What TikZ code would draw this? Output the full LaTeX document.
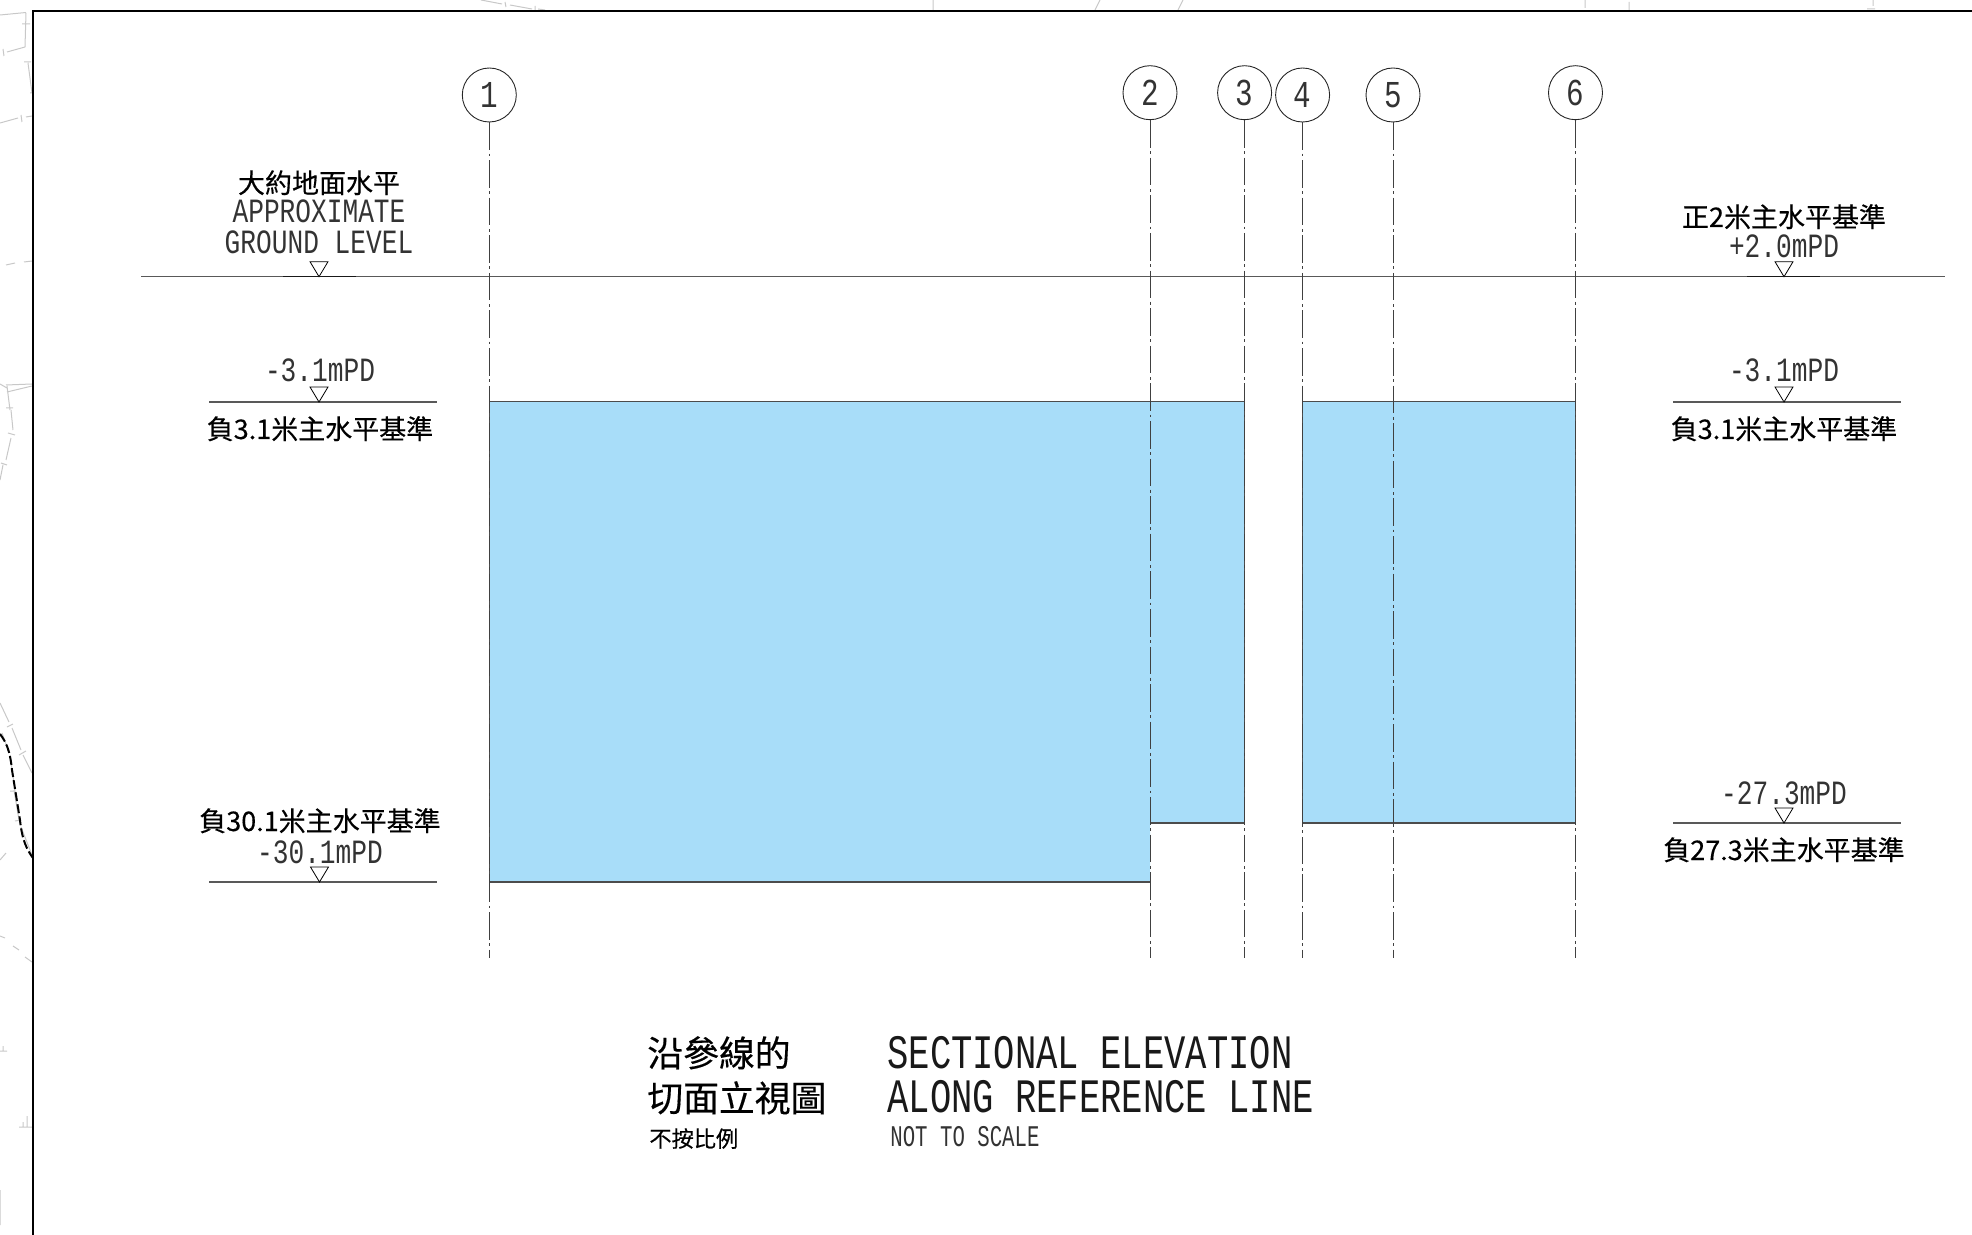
\documentclass[tikz,border=0pt]{standalone}
\usepackage{fontspec}
\setmainfont{Liberation Sans}
\newfontfamily\cjk[FakeBold=0.35]{Noto Sans CJK TC}
\newfontfamily\cada[FakeStretch=0.77]{Liberation Mono}
\newfontfamily\cadb[FakeStretch=0.74]{Liberation Mono}
\newfontfamily\cadc[FakeStretch=0.69]{Liberation Mono}
\definecolor{waterblue}{HTML}{A8DDF9}
\definecolor{mapgrey}{HTML}{C8C8C8}
\tikzset{
  zh/.style={inner sep=0pt,anchor=base,font=\cjk\fontsize{13.5}{13.5}\selectfont},
  zhbig/.style={inner sep=0pt,anchor=base west,font=\cjk\fontsize{17.9}{17.9}\selectfont},
  zhsmall/.style={inner sep=0pt,anchor=base west,font=\cjk\fontsize{11.1}{11.1}\selectfont},
  en/.style={inner sep=0pt,anchor=base,text=black!80,font=\cada\fontsize{17}{17}\selectfont},
  entitle/.style={inner sep=0pt,anchor=base west,text=black!90,font=\cadb\fontsize{24}{24}\selectfont},
  ensmall/.style={inner sep=0pt,anchor=base west,text=black!80,font=\cadc\fontsize{15}{15}\selectfont},
  gridcircle/.style={draw=black!85,line width=0.45pt,circle,minimum size=27pt,inner sep=0pt,text=black!80,font=\cada\fontsize{19}{19}\selectfont},
  centreline/.style={draw=black!75,line width=0.45pt,dash pattern=on 13.8pt off 1.8pt on 1.4pt off 1.8pt},
  levelline/.style={draw=black!65,line width=0.7pt},
  levelshort/.style={draw=black!90,line width=0.6pt},
  edge/.style={draw=black!70,line width=0.6pt},
  marker/.style={draw=black,line width=0.4pt,fill=white},
  mapline/.style={draw=mapgrey,line width=0.5pt},
}
\begin{document}
\begin{tikzpicture}[x=0.5pt,y=-0.5pt]
\useasboundingbox (0,0) rectangle (1972,1235);
% faint map linework outside the frame
\path[mapline]
 (0,15)--(26,12.5) (26,13)--(25,47) (22,24)--(30,24) (7,52)--(25,47) (3,49)--(4,56)
 (24,62)--(31,62) (28,63)--(32,93) (30,93)--(33,93) (0,123)--(18,118) (21,115)--(22,122)
 (26,117)--(32,116) (6,265)--(15,263) (24,262)--(32,261)
 (0,384)--(7,388) (6,385)--(32,384) (7,392)--(32,386) (7,386)--(10,410) (6,408)--(13,408)
 (11,410)--(13,430) (8,433)--(15,435) (11,438)--(6,460) (1,463)--(7,465) (3,465)--(0,480)
 (0,703)--(9,722) (7,727)--(13,724) (12,728)--(21,750) (19,755)--(26,751) (23,755)--(32,773)
 (2,733)--(9,752) (10,755)--(15,790) (14,790)--(19,820) (10,791)--(16,791) (15,821)--(21,820)
 (21,827)--(32,855) (0,860)--(6,853) (0,936)--(5,938) (13,946)--(19,950) (25,957)--(32,962)
 (0,1051)--(7,1051) (3,1051)--(3,1046) (19,1127)--(32,1127) (27,1127)--(27,1116) (23,1127)--(23,1122)
 (0,1190)--(0,1225)
 (481,0)--(502,4) (505,2)--(506,7) (510,5)--(532,9) (535,6)--(535,10) (538,9)--(545,10)
 (933,0)--(933,10) (1095,10)--(1100,0) (1178,10)--(1183,0) (1585,0)--(1585,8) (1629,2)--(1629,10)
 (1873,0)--(1873,6) (1867,9)--(1875,9);
\draw[black,line width=1pt,dash pattern=on 4.5pt off 1.6pt]
 (0,734) .. controls (6,742) and (10,750) .. (12,770) -- (20,820) .. controls (22,840) and (27,850) .. (33,858);
% frame
\draw[black,line width=1.15pt] (33,1235) -- (33,11) -- (1972,11);
% water bodies
\fill[waterblue] (489.3,401.7) -- (1244.6,401.7) -- (1244.6,823) -- (1150,823) -- (1150,882) -- (489.3,882) -- cycle;
\fill[waterblue] (1302.6,401.7) rectangle (1575.5,823);
\draw[edge] (1150,882) -- (489.3,882) -- (489.3,401.7) -- (1244.6,401.7) -- (1244.6,823) -- (1150,823);
\draw[edge] (1302.6,401.7) rectangle (1575.5,823);
% ground level
\coordinate (gl) at (141,276.7);
\coordinate (gr) at (1945,276.7);
\draw[levelline] (gl) -- (gr);
\draw[levelshort] (283,276.7) -- (356,276.7);
\draw[levelshort] (1747,276.7) -- (1820,276.7);
% grid circles
\node[gridcircle] (c1) at (489.3,95) {1};
\node[gridcircle] (c2) at (1150,92.7) {2};
\node[gridcircle] (c3) at (1244.6,92.7) {3};
\node[gridcircle] (c4) at (1302.6,95) {4};
\node[gridcircle] (c5) at (1393,95) {5};
\node[gridcircle] (c6) at (1575.5,92.7) {6};
\foreach \i/\x in {1/489.3,2/1150,3/1244.6,4/1302.6,5/1393,6/1575.5}{
  \coordinate (e\i) at (\x,958);
  \draw[centreline] (c\i.south) -- (e\i);
}
% level lines
\coordinate (l1a) at (209,402); \coordinate (l1b) at (437,402);
\coordinate (l2a) at (209,882); \coordinate (l2b) at (437,882);
\coordinate (r1a) at (1673,402); \coordinate (r1b) at (1901,402);
\coordinate (r2a) at (1673,823); \coordinate (r2b) at (1901,823);
\draw[levelline] (l1a) -- (l1b);
\draw[levelline] (l2a) -- (l2b);
\draw[levelline] (r1a) -- (r1b);
\draw[levelline] (r2a) -- (r2b);
% level markers
\foreach \x/\y in {319/276.7,1784/276.7,319/402,1784/402,319.5/882,1784/823}{
  \draw[marker] (\x-9,\y-15) -- (\x+9,\y-15) -- (\x,\y) -- cycle;
}
% labels, left
\node[zh] (t1) at (319,193) {大約地面水平};
\node[en] (t2) at (319,223) {APPROXIMATE};
\node[en] (t3) at (319,254) {GROUND LEVEL};
\node[en] (t4) at (320,382) {-3.1mPD};
\node[zh] (t5) at (320,439) {負3.1米主水平基準};
\node[zh] (t6) at (320,831) {負30.1米主水平基準};
\node[en] (t7) at (320,863) {-30.1mPD};
% labels, right
\node[zh] (t8) at (1784,227) {正2米主水平基準};
\node[en] (t9) at (1784,258) {+2.0mPD};
\node[en] (t10) at (1784,382) {-3.1mPD};
\node[zh] (t11) at (1784,439) {負3.1米主水平基準};
\node[en] (t12) at (1784,804) {-27.3mPD};
\node[zh] (t13) at (1784,860) {負27.3米主水平基準};
% title
\node[zhbig] (t14) at (647,1066.5) {沿參線的};
\node[zhbig] (t15) at (647,1111.5) {切面立視圖};
\node[zhsmall] (t16) at (649,1147) {不按比例};
\node[entitle] (t17) at (887,1068) {SECTIONAL ELEVATION};
\node[entitle] (t18) at (887,1112) {ALONG REFERENCE LINE};
\node[ensmall] (t19) at (890,1146) {NOT TO SCALE};
\end{tikzpicture}
\end{document}
